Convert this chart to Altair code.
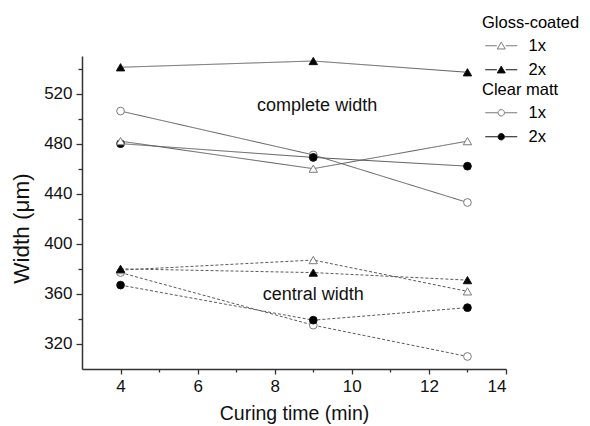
import altair as alt
import pandas as pd

times = [4, 9, 13]

# complete width (solid lines)
gloss_1x_complete = [482, 460, 482]
gloss_2x_complete = [541, 546, 537]
clear_1x_complete = [506, 471, 433]
clear_2x_complete = [480, 469, 462]

# central width (dashed lines)
gloss_1x_central = [379, 387, 362]
gloss_2x_central = [380, 377, 371]
clear_1x_central = [377, 335, 310]
clear_2x_central = [367, 339, 349]

x_major = [4, 6, 8, 10, 12, 14]
x_minor = [5, 7, 9, 11, 13]
y_major = [320, 360, 400, 440, 480, 520]
y_minor = [340, 380, 420, 460, 500, 540]

annot_text = ["complete width", "central width"]
annot_x = [9.1, 9.0]
annot_y = [510, 359]

rows = []
series = [
    ("Gloss-coated", "1x", "complete", gloss_1x_complete),
    ("Gloss-coated", "2x", "complete", gloss_2x_complete),
    ("Clear matt", "1x", "complete", clear_1x_complete),
    ("Clear matt", "2x", "complete", clear_2x_complete),
    ("Gloss-coated", "1x", "central", gloss_1x_central),
    ("Gloss-coated", "2x", "central", gloss_2x_central),
    ("Clear matt", "1x", "central", clear_1x_central),
    ("Clear matt", "2x", "central", clear_2x_central),
]
for paper, coats, measure, vals in series:
    for t, v in zip(times, vals):
        rows.append({"time": t, "width": v, "paper": paper, "coats": coats,
                     "measure": measure, "key": f"{paper}-{coats}-{measure}"})
df = pd.DataFrame(rows)
annot = pd.DataFrame({"time": annot_x, "width": annot_y, "text": annot_text})

FONT = "Liberation Sans"
xscale = alt.Scale(domain=[3, 14], nice=False, zero=False)
yscale = alt.Scale(domain=[300, 550], nice=False, zero=False)

base = alt.Chart(df)

lines = base.mark_line(stroke="#5a5a5a", strokeWidth=1).encode(
    x=alt.X("time:Q", scale=xscale,
            axis=alt.Axis(values=x_major, title="Curing time (min)", grid=False,
                          orient="bottom",
                          tickSize=5, labelFontSize=17, titleFontSize=19.5,
                          labelPadding=4, titlePadding=10, titleFontWeight="normal",
                          format="d")),
    y=alt.Y("width:Q", scale=yscale,
            axis=alt.Axis(values=y_major, title="Width (\u03bcm)", grid=False,
                          orient="left",
                          tickSize=6, labelFontSize=17, titleFontSize=22.5,
                          labelPadding=4, titlePadding=10, titleFontWeight="normal",
                          titleY=172, format="d")),
    strokeDash=alt.StrokeDash("measure:N",
                              scale=alt.Scale(domain=["complete", "central"],
                                              range=[[1, 0], [3, 2]]),
                              legend=None),
    detail="key:N",
)

minor = base.mark_point(opacity=0).encode(
    x=alt.X("time:Q", scale=xscale,
            axis=alt.Axis(values=x_minor, labels=False, domain=False, grid=False,
                          tickSize=3, title=None, orient="bottom")),
    y=alt.Y("width:Q", scale=yscale,
            axis=alt.Axis(values=y_minor, labels=False, domain=False, grid=False,
                          tickSize=4, title=None, orient="left")),
)

tri_path = "M-4,0L-1.1,0M1.1,0L4,0M0,-0.9L1,0.8L-1,0.8Z"
cir_path = ("M-4,0L-0.85,0M0.85,0L4,0M0.8,0A0.8,0.8,0,1,1,-0.8,0"
            "A0.8,0.8,0,1,1,0.8,0Z")


def legend(title, path, ly, label_expr=None):
    kw = dict(title=title, orient="none", legendX=400, legendY=ly, padding=0,
              symbolType=path, symbolSize=64, symbolStrokeWidth=1,
              symbolOffset=11, labelOffset=19, labelFontSize=16.5, titleFontSize=16.5,
              titleFontWeight="normal", titleColor="black", labelColor="black",
              rowPadding=7, titlePadding=6, labelFont=FONT, titleFont=FONT)
    if label_expr:
        kw["labelExpr"] = label_expr
    return alt.Legend(**kw)


def points(paper, shape, size, path, ly, label_expr=None):
    lg = legend(paper, path, ly, label_expr)
    return base.transform_filter(alt.datum.paper == paper).mark_point(
        filled=True, shape=shape, size=size, strokeWidth=1, opacity=1
    ).encode(
        x=alt.X("time:Q", scale=xscale, axis=None),
        y=alt.Y("width:Q", scale=yscale, axis=None),
        fill=alt.Fill("coats:N", scale=alt.Scale(domain=["1x", "2x"],
                                                 range=["white", "black"]),
                      legend=lg),
        stroke=alt.Stroke("coats:N", scale=alt.Scale(domain=["1x", "2x"],
                                                     range=["#7a7a7a", "#111111"]),
                          legend=lg),
    )


gloss_pts = points("Gloss-coated", "triangle-up", 70, tri_path, -41,
                   "datum.label == '2x' ? '\u00a02x' : datum.label")
clear_pts = points("Clear matt", "circle", 60, cir_path, 26)

labels = alt.Chart(annot).mark_text(fontSize=18, font=FONT, color="#111",
                                    baseline="middle", align="center").encode(
    x=alt.X("time:Q", scale=xscale, axis=None),
    y=alt.Y("width:Q", scale=yscale, axis=None),
    text="text:N",
)

chart = alt.layer(lines, minor, labels, clear_pts, gloss_pts).resolve_axis(
    x="independent", y="independent"
).resolve_scale(
    fill="independent", stroke="independent"
).properties(
    width=424, height=313,
    autosize=alt.AutoSizeParams(type="none"),
    padding={"left": 82, "top": 56, "right": 84, "bottom": 57},
    background="white",
).configure_view(stroke=None).configure_axis(
    domainColor="#333", domainWidth=1.5, tickColor="#333", tickWidth=1.3,
    labelColor="#111", titleColor="#111", labelFont=FONT, titleFont=FONT,
)

chart.save("out.html", embed_options={"renderer": "svg", "actions": False})
